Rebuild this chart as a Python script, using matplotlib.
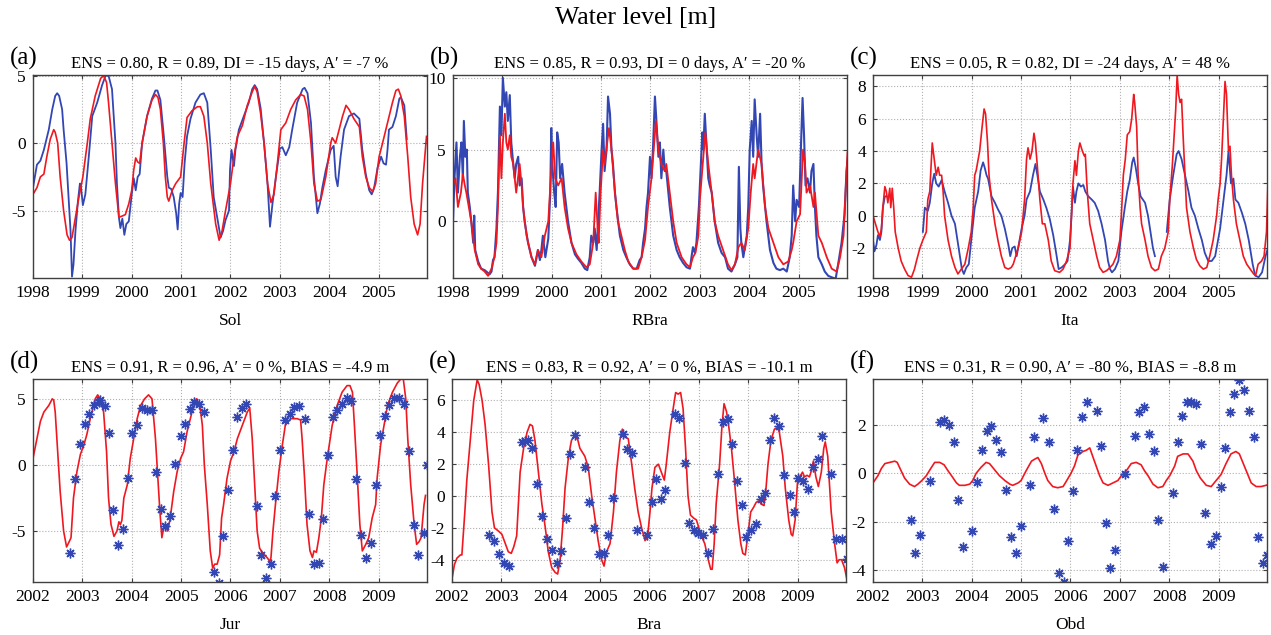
import numpy as np
import matplotlib.pyplot as plt

plt.rcParams['font.family'] = ['Liberation Serif', 'DejaVu Serif']
plt.rcParams['axes.unicode_minus'] = False

BLUE = '#3246b4'
RED = '#f01820'

# ---- Sol (1998-2005): observed (blue) and simulated (red) ----
sol_obs_t = [1998.00, 1998.08, 1998.15, 1998.22, 1998.32, 1998.39, 1998.45, 1998.49, 1998.53, 1998.59,
             1998.62, 1998.68, 1998.72, 1998.76, 1998.79, 1998.82, 1998.86, 1998.91, 1998.95, 1998.97,
             1999.01, 1999.06, 1999.13, 1999.20, 1999.30, 1999.40, 1999.47, 1999.53, 1999.60, 1999.67,
             1999.70, 1999.74, 1999.77, 1999.81, 1999.85, 1999.89, 1999.94, 2000.00, 2000.04, 2000.08,
             2000.12, 2000.16, 2000.21, 2000.31, 2000.41, 2000.48, 2000.52, 2000.58, 2000.65, 2000.72,
             2000.75, 2000.80, 2000.85, 2000.90, 2000.93, 2000.96, 2000.99, 2001.03, 2001.07, 2001.12,
             2001.19, 2001.29, 2001.39, 2001.46, 2001.53, 2001.60, 2001.66, 2001.73, 2001.80, 2001.85,
             2001.90, 2001.97, 2001.99, 2002.02, 2002.07, 2002.10, 2002.17, 2002.27, 2002.37, 2002.44,
             2002.49, 2002.54, 2002.61, 2002.68, 2002.75, 2002.80, 2002.85, 2002.92, 2003.00, 2003.05,
             2003.12, 2003.19, 2003.25, 2003.35, 2003.46, 2003.50, 2003.56, 2003.63, 2003.69, 2003.76,
             2003.81, 2003.86, 2003.93, 2004.03, 2004.09, 2004.13, 2004.17, 2004.23, 2004.30, 2004.40,
             2004.50, 2004.61, 2004.67, 2004.74, 2004.81, 2004.86, 2004.91, 2004.98, 2005.05, 2005.10,
             2005.15, 2005.18, 2005.21, 2005.28, 2005.35, 2005.42, 2005.45, 2005.52, 2005.57]
sol_obs_v = [-3.3, -1.6, -1.3, -0.5, 1.0, 2.5, 3.5, 3.7, 3.5, 2.5,
             1.0, -1.5, -4.0, -6.5, -9.9, -9.0, -6.5, -4.3, -3.0, -3.2,
             -4.6, -3.8, -1.0, 2.0, 3.0, 4.3, 5.0, 5.0, 4.0, 0.0,
             -3.0, -5.5, -6.3, -5.6, -6.8, -6.0, -5.8, -3.8, -2.6, -3.5,
             -2.5, -2.3, 0.0, 2.0, 3.3, 3.9, 3.9, 3.2, 0.5, -2.5,
             -3.3, -3.4, -4.0, -5.2, -6.4, -4.5, -3.7, -4.0, -1.5, 0.5,
             1.8, 3.0, 3.6, 3.7, 3.0, -0.5, -4.0, -5.5, -7.0, -6.5,
             -5.7, -5.0, -2.0, -0.5, -1.7, -0.5, 1.0, 2.0, 3.0, 4.0,
             4.3, 4.0, 2.6, 0.0, -3.0, -6.2, -4.5, -2.5, -0.4, -0.3,
             -0.9, -0.3, 1.0, 3.0, 4.0, 4.1, 3.7, 1.5, -2.5, -5.2,
             -4.5, -3.3, -2.0, -0.5, -0.2, -2.5, -3.2, -1.0, 1.0, 2.0,
             2.2, 1.8, -0.5, -2.3, -3.5, -3.8, -3.3, -1.8, -1.0, -1.5,
             -1.6, -0.5, 1.0, 1.2, 2.0, 3.3, 3.4, 2.8, 0.3]
sol_sim_t = [1998.00, 1998.08, 1998.15, 1998.22, 1998.28, 1998.35, 1998.42, 1998.45, 1998.50, 1998.55,
             1998.62, 1998.69, 1998.74, 1998.79, 1998.86, 1998.93, 1999.01, 1999.10, 1999.16, 1999.26,
             1999.37, 1999.43, 1999.49, 1999.53, 1999.60, 1999.67, 1999.74, 1999.81, 1999.87, 1999.94,
             2000.00, 2000.04, 2000.08, 2000.12, 2000.16, 2000.21, 2000.31, 2000.41, 2000.48, 2000.53,
             2000.58, 2000.64, 2000.68, 2000.72, 2000.75, 2000.82, 2000.89, 2000.99, 2001.06, 2001.12,
             2001.22, 2001.33, 2001.39, 2001.46, 2001.53, 2001.60, 2001.70, 2001.77, 2001.83, 2001.90,
             2002.00, 2002.07, 2002.14, 2002.24, 2002.34, 2002.44, 2002.49, 2002.54, 2002.61, 2002.68,
             2002.75, 2002.82, 2002.88, 2002.95, 2003.02, 2003.12, 2003.22, 2003.32, 2003.42, 2003.49,
             2003.56, 2003.63, 2003.69, 2003.76, 2003.83, 2003.93, 2004.03, 2004.06, 2004.13, 2004.20,
             2004.27, 2004.34, 2004.40, 2004.50, 2004.61, 2004.67, 2004.74, 2004.81, 2004.88, 2004.94,
             2005.01, 2005.08, 2005.18, 2005.28, 2005.35, 2005.40, 2005.45, 2005.52, 2005.59, 2005.65,
             2005.72, 2005.79, 2005.84, 2005.89, 2005.97]
sol_sim_v = [-3.8, -3.3, -2.5, -2.3, -1.0, 0.3, 1.0, 0.8, 0.0, -2.5,
             -5.0, -6.8, -7.2, -7.0, -5.5, -4.0, -2.5, 0.0, 1.8, 3.5,
             4.8, 5.0, 4.5, 3.0, 0.0, -3.0, -5.5, -5.4, -5.3, -4.5,
             -3.5, -2.0, -1.1, -1.4, -1.5, 0.0, 2.0, 3.2, 3.6, 3.4,
             2.5, 0.0, -2.5, -4.0, -4.3, -3.5, -3.0, -2.5, 0.0, 1.9,
             2.4, 2.7, 2.7, 2.0, 0.0, -3.0, -6.0, -7.2, -6.5, -5.0,
             -3.0, -1.0, 0.5, 1.3, 2.8, 3.8, 4.2, 3.8, 2.2, 0.0,
             -3.0, -4.4, -3.8, -1.5, 1.0, 1.5, 2.5, 3.2, 3.6, 3.5,
             2.5, 0.0, -3.0, -4.3, -4.2, -2.5, 0.0, 0.4, 0.0, 1.0,
             2.0, 2.8, 2.5, 1.8, 1.2, -1.0, -2.5, -3.3, -3.6, -3.0,
             -1.0, 0.0, 1.5, 3.0, 3.9, 4.0, 3.5, 2.0, -1.0, -4.0,
             -6.0, -6.8, -6.0, -3.0, 0.5]

# ---- RBra (1998-2005) ----
rbra_obs_t = [1998.00, 1998.03, 1998.07, 1998.10, 1998.14, 1998.17, 1998.20, 1998.22, 1998.25, 1998.28,
              1998.30, 1998.34, 1998.37, 1998.41, 1998.43, 1998.45, 1998.51, 1998.57, 1998.64, 1998.71,
              1998.74, 1998.78, 1998.81, 1998.84, 1998.88, 1998.91, 1998.95, 1998.98, 1999.01, 1999.05,
              1999.08, 1999.11, 1999.15, 1999.18, 1999.22, 1999.25, 1999.28, 1999.32, 1999.35, 1999.39,
              1999.42, 1999.45, 1999.52, 1999.59, 1999.66, 1999.72, 1999.76, 1999.79, 1999.82, 1999.87,
              1999.93, 1999.97, 1999.99, 2000.01, 2000.05, 2000.08, 2000.11, 2000.14, 2000.17, 2000.21,
              2000.26, 2000.33, 2000.40, 2000.47, 2000.53, 2000.60, 2000.67, 2000.72, 2000.77, 2000.80,
              2000.84, 2000.87, 2000.91, 2000.94, 2000.97, 2001.01, 2001.04, 2001.07, 2001.11, 2001.14,
              2001.18, 2001.21, 2001.24, 2001.28, 2001.31, 2001.38, 2001.45, 2001.51, 2001.58, 2001.65,
              2001.72, 2001.78, 2001.82, 2001.85, 2001.89, 2001.92, 2001.95, 2001.99, 2002.02, 2002.05,
              2002.09, 2002.12, 2002.16, 2002.19, 2002.22, 2002.26, 2002.29, 2002.32, 2002.39, 2002.46,
              2002.53, 2002.59, 2002.66, 2002.73, 2002.80, 2002.83, 2002.86, 2002.90, 2002.93, 2002.98,
              2003.02, 2003.05, 2003.07, 2003.10, 2003.14, 2003.17, 2003.20, 2003.24, 2003.30, 2003.37,
              2003.44, 2003.51, 2003.57, 2003.64, 2003.71, 2003.76, 2003.79, 2003.82, 2003.84, 2003.88,
              2003.95, 2003.98, 2004.01, 2004.05, 2004.08, 2004.11, 2004.15, 2004.18, 2004.22, 2004.25,
              2004.28, 2004.35, 2004.42, 2004.49, 2004.55, 2004.62, 2004.69, 2004.76, 2004.82, 2004.86,
              2004.89, 2004.93, 2004.96, 2005.01, 2005.05, 2005.08, 2005.11, 2005.14, 2005.18, 2005.23,
              2005.26, 2005.30, 2005.33, 2005.36, 2005.40, 2005.47, 2005.53, 2005.60, 2005.67, 2005.75,
              2005.80, 2005.87, 2005.93, 2005.97, 2006.00]
rbra_obs_v = [0.0, 3.0, 5.5, 2.0, 4.5, 5.5, 3.0, 7.0, 4.5, 5.0,
              2.0, 1.0, 0.0, -1.5, 0.4, -2.0, -2.8, -3.3, -3.4, -3.6,
              -3.7, -3.5, -2.7, -2.5, -0.5, 2.0, 8.0, 6.0, 10.0, 8.0,
              9.0, 7.0, 8.8, 5.5, 4.0, 3.0, 4.0, 4.5, 2.5, 3.0,
              1.0, 0.0, -1.5, -2.5, -3.1, -2.0, -2.7, -2.0, -1.0, -2.5,
              -1.2, 2.0, 6.5, 4.0, 2.0, 1.0, 6.2, 5.5, 3.0, 4.0,
              2.0, 0.0, -1.5, -2.3, -2.6, -2.9, -3.3, -3.4, -2.5, -1.0,
              -1.5, -0.5, -2.0, 0.0, 2.0, 5.0, 6.8, 3.5, 5.0, 8.7,
              7.5, 5.0, 4.0, 2.0, 1.0, -1.0, -2.0, -2.5, -3.0, -3.3,
              -3.3, -2.7, -2.5, -1.5, -0.5, 1.0, 2.0, 4.5, 3.0, 5.0,
              8.7, 7.0, 4.5, 5.5, 3.0, 5.0, 3.5, 3.5, 1.0, -1.0,
              -2.0, -2.5, -2.9, -3.2, -3.3, -2.5, -1.8, -2.2, -1.5, 1.0,
              4.0, 6.2, 5.0, 7.5, 5.0, 3.0, 2.5, 2.0, 0.0, -1.5,
              -2.2, -2.5, -3.3, -3.5, -3.0, -2.5, 3.8, -0.5, -1.5, -2.5,
              -1.0, 1.0, 5.0, 7.0, 4.5, 8.5, 6.0, 4.5, 7.5, 4.0,
              2.5, 0.0, -2.0, -2.9, -3.3, -3.4, -3.3, -3.5, -2.5, -1.0,
              2.5, 0.0, 1.5, 1.0, 5.5, 8.6, 6.0, 2.5, 3.0, 2.0,
              3.5, 4.0, 1.0, -1.0, -2.5, -3.0, -3.5, -3.8, -3.9, -4.0,
              -3.0, -1.5, 0.5, 3.5, 4.5]
rbra_sim_t = [1998.00, 1998.05, 1998.10, 1998.16, 1998.20, 1998.24, 1998.27, 1998.32, 1998.37, 1998.44,
              1998.51, 1998.57, 1998.64, 1998.71, 1998.78, 1998.84, 1998.88, 1998.91, 1998.95, 1998.98,
              1999.01, 1999.05, 1999.08, 1999.11, 1999.15, 1999.18, 1999.22, 1999.28, 1999.35, 1999.39,
              1999.42, 1999.49, 1999.59, 1999.66, 1999.72, 1999.79, 1999.86, 1999.93, 1999.98, 2000.03,
              2000.07, 2000.13, 2000.20, 2000.26, 2000.33, 2000.40, 2000.50, 2000.60, 2000.70, 2000.77,
              2000.84, 2000.89, 2000.93, 2000.95, 2000.99, 2001.04, 2001.07, 2001.16, 2001.21, 2001.28,
              2001.34, 2001.41, 2001.48, 2001.55, 2001.65, 2001.75, 2001.82, 2001.89, 2001.95, 2002.02,
              2002.11, 2002.16, 2002.22, 2002.29, 2002.32, 2002.39, 2002.46, 2002.53, 2002.63, 2002.73,
              2002.80, 2002.86, 2002.91, 2002.97, 2003.00, 2003.07, 2003.11, 2003.17, 2003.24, 2003.30,
              2003.37, 2003.47, 2003.57, 2003.64, 2003.71, 2003.78, 2003.84, 2003.91, 2003.98, 2004.03,
              2004.08, 2004.11, 2004.18, 2004.25, 2004.32, 2004.39, 2004.49, 2004.59, 2004.69, 2004.79,
              2004.86, 2004.89, 2004.96, 2005.03, 2005.09, 2005.13, 2005.16, 2005.23, 2005.30, 2005.33,
              2005.40, 2005.47, 2005.57, 2005.67, 2005.77, 2005.84, 2005.91, 2005.95, 2005.99]
rbra_sim_v = [2.5, 3.0, 1.0, 2.0, 3.3, 2.5, 2.0, 1.0, 0.0, -2.0,
              -3.0, -3.3, -3.5, -3.8, -3.3, -2.5, -1.5, 1.0, 6.0, 3.0,
              5.5, 7.5, 5.5, 5.0, 6.0, 4.5, 4.0, 2.0, 4.0, 2.5,
              1.0, -1.0, -2.5, -3.0, -2.0, -2.5, -1.0, 0.0, 3.0, 5.5,
              3.0, 2.5, 3.0, 1.0, -0.5, -1.5, -2.3, -2.8, -3.2, -3.0,
              -1.5, 2.0, -0.5, -1.5, 2.0, 5.0, 4.0, 6.5, 5.0, 2.0,
              0.0, -1.0, -2.0, -2.8, -3.3, -3.3, -2.5, -1.3, 1.0, 3.0,
              7.0, 5.0, 4.0, 3.5, 4.0, 2.0, 0.0, -1.5, -2.5, -3.0,
              -3.2, -2.5, -2.2, -1.0, 1.5, 4.5, 6.2, 4.0, 2.0, 0.0,
              -1.0, -2.0, -3.0, -3.4, -3.0, -1.8, -1.5, -2.0, -0.5, 2.0,
              4.0, 3.0, 5.0, 4.0, 1.0, -0.5, -1.5, -2.5, -3.0, -2.8,
              -2.0, -1.5, 0.0, 0.5, 5.0, 4.0, 2.0, 2.5, 1.0, 2.0,
              -1.0, -1.5, -2.5, -3.3, -3.5, -2.5, -1.0, 2.0, 4.8]

# ---- Ita (1998-2005); NaN marks gaps in the record ----
ita_obs_t = [1998.00, 1998.03, 1998.07, 1998.10, 1998.14, 1998.17, 1998.20, 1998.24, 1998.27, 1998.60,
             1999.01, 1999.05, 1999.11, 1999.15, 1999.20, 1999.24, 1999.28, 1999.33, 1999.39, 1999.45,
             1999.52, 1999.59, 1999.66, 1999.71, 1999.76, 1999.80, 1999.84, 1999.89, 1999.94, 1999.99,
             2000.06, 2000.13, 2000.18, 2000.23, 2000.26, 2000.30, 2000.33, 2000.40, 2000.47, 2000.53,
             2000.60, 2000.67, 2000.74, 2000.78, 2000.82, 2000.87, 2000.91, 2001.01, 2001.07, 2001.11,
             2001.18, 2001.24, 2001.29, 2001.33, 2001.38, 2001.45, 2001.51, 2001.58, 2001.65, 2001.72,
             2001.76, 2001.82, 2001.89, 2001.94, 2001.99, 2002.02, 2002.05, 2002.09, 2002.12, 2002.16,
             2002.21, 2002.26, 2002.30, 2002.36, 2002.43, 2002.49, 2002.56, 2002.63, 2002.70, 2002.76,
             2002.80, 2002.84, 2002.90, 2002.97, 2003.03, 2003.10, 2003.15, 2003.20, 2003.25, 2003.28,
             2003.32, 2003.37, 2003.42, 2003.51, 2003.57, 2003.62, 2003.67, 2003.71, 2003.85, 2003.95,
             2004.01, 2004.08, 2004.15, 2004.19, 2004.25, 2004.32, 2004.39, 2004.45, 2004.52, 2004.59,
             2004.66, 2004.72, 2004.79, 2004.86, 2004.93, 2004.99, 2005.03, 2005.08, 2005.12, 2005.16,
             2005.20, 2005.25, 2005.30, 2005.34, 2005.40, 2005.47, 2005.54, 2005.61, 2005.69, 2005.74,
             2005.81, 2005.88, 2005.95, 2006.00]
ita_obs_v = [-1.5, -2.2, -1.8, -1.2, -1.5, -1.0, 0.5, 1.2, 1.2, np.nan,
             -1.0, 0.5, 0.3, 0.8, 2.0, 2.6, 2.0, 1.8, 2.2, 1.5,
             0.8, 0.0, -0.5, -1.5, -2.5, -3.3, -3.6, -3.2, -3.0, -1.5,
             0.5, 1.5, 2.8, 3.3, 3.0, 2.5, 2.3, 1.2, 0.8, 0.4,
             0.0, -0.8, -1.8, -2.5, -2.0, -1.9, -2.5, -0.8, 0.0, 1.0,
             1.5, 2.5, 3.2, 2.5, 1.5, 1.0, 0.5, -0.2, -1.2, -2.5,
             -3.3, -3.2, -3.0, -2.8, -1.5, 0.0, 1.8, 0.8, 1.5, 2.0,
             1.8, 1.9, 1.5, 1.2, 1.0, 0.8, 0.3, -0.5, -1.5, -2.8,
             -3.3, -3.5, -3.3, -2.8, -1.0, 0.5, 1.5, 2.2, 3.3, 3.6,
             3.0, 2.0, 1.2, 0.8, 0.0, -1.0, -2.0, -2.5, np.nan, -1.0,
             1.0, 2.5, 3.8, 4.0, 3.5, 2.5, 1.5, 0.5, 0.0, -0.8,
             -1.5, -2.3, -2.8, -2.8, -2.5, -1.5, -0.8, 0.5, 1.5, 2.5,
             4.0, 2.0, 2.3, 1.0, 0.8, 0.2, -0.5, -1.5, -3.0, -3.7,
             -3.8, -3.5, -2.5, -2.0]
ita_sim_t = [1998.00, 1998.05, 1998.10, 1998.14, 1998.17, 1998.20, 1998.24, 1998.27, 1998.30, 1998.34,
             1998.36, 1998.39, 1998.42, 1998.45, 1998.51, 1998.57, 1998.64, 1998.71, 1998.78, 1998.84,
             1998.88, 1998.95, 1999.01, 1999.08, 1999.11, 1999.15, 1999.20, 1999.24, 1999.28, 1999.32,
             1999.35, 1999.39, 1999.42, 1999.45, 1999.52, 1999.59, 1999.66, 1999.72, 1999.79, 1999.86,
             1999.93, 1999.99, 2000.03, 2000.06, 2000.09, 2000.16, 2000.21, 2000.25, 2000.28, 2000.32,
             2000.35, 2000.40, 2000.47, 2000.53, 2000.60, 2000.67, 2000.74, 2000.80, 2000.84, 2000.89,
             2000.94, 2001.01, 2001.07, 2001.11, 2001.14, 2001.18, 2001.22, 2001.26, 2001.29, 2001.33,
             2001.38, 2001.43, 2001.48, 2001.55, 2001.61, 2001.68, 2001.78, 2001.85, 2001.92, 2001.99,
             2002.02, 2002.05, 2002.09, 2002.12, 2002.16, 2002.19, 2002.24, 2002.28, 2002.30, 2002.34,
             2002.39, 2002.46, 2002.53, 2002.59, 2002.66, 2002.73, 2002.80, 2002.86, 2002.93, 2003.00,
             2003.03, 2003.07, 2003.11, 2003.15, 2003.20, 2003.24, 2003.28, 2003.30, 2003.34, 2003.37,
             2003.41, 2003.44, 2003.51, 2003.57, 2003.64, 2003.71, 2003.78, 2003.84, 2003.91, 2003.98,
             2004.01, 2004.06, 2004.09, 2004.13, 2004.16, 2004.19, 2004.22, 2004.25, 2004.28, 2004.32,
             2004.35, 2004.42, 2004.49, 2004.55, 2004.62, 2004.69, 2004.76, 2004.82, 2004.89, 2004.96,
             2004.99, 2005.03, 2005.06, 2005.09, 2005.13, 2005.16, 2005.20, 2005.23, 2005.26, 2005.30,
             2005.36, 2005.43, 2005.50, 2005.57, 2005.64, 2005.71, 2005.75, 2005.80, 2005.87, 2005.92,
             2005.97, 2006.00]
ita_sim_v = [0.0, -0.5, -1.0, -1.3, -0.8, 0.5, 1.8, 1.5, 0.8, 1.7,
             0.5, 1.7, 0.5, -1.0, -2.0, -2.8, -3.3, -3.7, -3.8, -3.3,
             -2.8, -2.0, -1.5, -1.0, 1.0, 1.5, 4.5, 3.5, 2.5, 3.0,
             2.5, 2.5, 1.5, 0.0, -1.5, -2.5, -3.2, -3.6, -3.3, -3.0,
             -2.0, -1.0, 0.5, 2.5, 2.8, 4.0, 5.5, 6.6, 6.3, 4.5,
             2.5, 1.0, -0.5, -1.5, -2.5, -3.2, -3.3, -3.2, -3.0, -2.5,
             -2.0, -1.0, 1.0, 3.5, 4.2, 3.5, 4.0, 5.1, 4.5, 3.0,
             1.0, -0.5, -0.5, -1.5, -2.8, -3.4, -3.5, -3.3, -2.8, -2.0,
             0.0, 2.0, 3.4, 2.5, 4.0, 4.5, 4.0, 3.7, 3.8, 1.5,
             -0.5, -1.5, -2.5, -3.2, -3.5, -3.4, -3.2, -3.0, -2.5, -1.5,
             0.0, 2.5, 3.5, 5.0, 5.2, 6.0, 7.5, 7.0, 5.5, 2.5,
             0.5, -0.5, -1.5, -2.5, -3.2, -3.4, -3.3, -2.5, -2.0, -1.0,
             1.0, 3.0, 4.5, 6.5, 8.7, 7.5, 7.0, 7.2, 5.0, 2.5,
             0.5, -1.0, -2.0, -2.7, -3.1, -3.3, -3.2, -2.5, -1.5, 0.0,
             1.0, 2.0, 3.5, 5.5, 8.3, 7.5, 4.0, 4.3, 2.5, 1.0,
             -0.5, -1.5, -2.5, -3.0, -3.3, -3.6, -3.7, -3.0, -2.8, -2.5,
             -1.0, 2.2]

# ---- Jur (2002-2009): simulated line and altimetry points ----
jur_sim_t = [2002.00, 2002.08, 2002.15, 2002.22, 2002.32, 2002.39, 2002.42, 2002.45, 2002.50, 2002.55,
             2002.62, 2002.68, 2002.72, 2002.77, 2002.82, 2002.89, 2002.96, 2003.03, 2003.09, 2003.16,
             2003.26, 2003.31, 2003.36, 2003.43, 2003.49, 2003.53, 2003.58, 2003.64, 2003.70, 2003.74,
             2003.77, 2003.80, 2003.84, 2003.91, 2003.97, 2004.04, 2004.11, 2004.18, 2004.26, 2004.34,
             2004.41, 2004.48, 2004.53, 2004.57, 2004.61, 2004.66, 2004.73, 2004.78, 2004.85, 2004.92,
             2004.99, 2005.05, 2005.12, 2005.22, 2005.31, 2005.38, 2005.43, 2005.47, 2005.53, 2005.59,
             2005.64, 2005.68, 2005.73, 2005.78, 2005.82, 2005.86, 2005.93, 2006.00, 2006.07, 2006.14,
             2006.24, 2006.34, 2006.39, 2006.44, 2006.49, 2006.54, 2006.59, 2006.68, 2006.74, 2006.80,
             2006.82, 2006.86, 2006.91, 2006.98, 2007.05, 2007.11, 2007.22, 2007.35, 2007.42, 2007.45,
             2007.50, 2007.55, 2007.61, 2007.66, 2007.69, 2007.74, 2007.79, 2007.84, 2007.89, 2007.96,
             2008.06, 2008.16, 2008.26, 2008.36, 2008.42, 2008.47, 2008.51, 2008.57, 2008.62, 2008.67,
             2008.74, 2008.80, 2008.87, 2008.94, 2008.97, 2009.04, 2009.11, 2009.18, 2009.28, 2009.38,
             2009.45, 2009.50, 2009.55, 2009.59, 2009.65, 2009.72, 2009.77, 2009.82, 2009.86, 2009.92,
             2009.95]
jur_sim_v = [0.5, 2.0, 3.3, 4.0, 4.5, 5.0, 4.9, 4.0, 1.0, -2.0,
             -5.0, -6.2, -5.9, -5.5, -2.5, -0.5, 0.8, 1.5, 2.3, 3.5,
             5.0, 5.3, 5.0, 4.0, 1.0, -2.5, -4.5, -5.4, -5.0, -4.3,
             -4.5, -4.2, -2.5, -1.5, 0.5, 2.0, 3.5, 4.5, 5.0, 5.3,
             5.0, 2.0, -1.0, -3.5, -5.5, -4.5, -5.0, -4.0, -2.0, -0.5,
             0.5, 1.0, 2.5, 4.0, 5.0, 4.5, 3.0, 0.0, -3.0, -6.5,
             -7.8, -7.5, -7.5, -6.8, -4.0, -3.0, -1.0, 0.3, 1.0, 2.0,
             3.0, 4.0, 4.3, 2.0, -1.5, -5.0, -6.3, -6.8, -7.0, -7.3,
             -7.0, -5.0, -3.0, -0.5, 1.5, 3.0, 3.5, 3.5, 3.4, 2.0,
             -1.0, -4.5, -6.5, -7.0, -6.5, -6.6, -5.5, -4.0, -1.5, 0.5,
             3.0, 4.5, 5.5, 6.0, 6.0, 5.5, 3.0, -1.0, -4.5, -6.5,
             -6.0, -5.5, -4.0, -3.0, -1.0, 1.5, 3.0, 4.5, 5.5, 6.2,
             6.5, 6.5, 5.0, 2.0, -1.5, -4.5, -6.0, -5.8, -5.5, -3.0,
             -2.3]
jur_obs_t = [2002.74, 2002.86, 2002.95, 2003.05, 2003.14, 2003.24, 2003.33, 2003.36, 2003.45, 2003.53,
             2003.62, 2003.72, 2003.82, 2003.92, 2004.01, 2004.11, 2004.21, 2004.30, 2004.41, 2004.49,
             2004.59, 2004.68, 2004.78, 2004.87, 2004.99, 2005.07, 2005.17, 2005.27, 2005.36, 2005.46,
             2005.66, 2005.76, 2005.85, 2005.95, 2006.05, 2006.14, 2006.23, 2006.32, 2006.53, 2006.62,
             2006.72, 2006.82, 2006.91, 2007.01, 2007.10, 2007.20, 2007.28, 2007.39, 2007.50, 2007.59,
             2007.69, 2007.79, 2007.87, 2007.98, 2008.07, 2008.16, 2008.26, 2008.35, 2008.45, 2008.55,
             2008.64, 2008.75, 2008.84, 2008.94, 2009.03, 2009.13, 2009.22, 2009.31, 2009.41, 2009.51,
             2009.61, 2009.71, 2009.80, 2009.91, 2009.97]
jur_obs_v = [-6.65, -1.03, 1.6, 3.1, 3.87, 4.5, 4.77, 4.9, 4.46, 2.4,
             -3.43, -6.06, -4.85, -0.98, 2.4, 3.0, 4.33, 4.12, 4.12, -0.52,
             -3.35, -4.59, -3.87, 0.05, 2.19, 3.1, 4.2, 4.77, 4.64, 4.0,
             -8.12, -8.9, -5.36, -1.93, 1.16, 3.66, 4.33, 4.64, -3.14, -6.78,
             -8.58, -7.47, -2.37, 1.1, 3.4, 3.87, 4.38, 4.43, 3.48, -3.74,
             -7.47, -7.42, -4.05, 0.77, 3.66, 4.12, 4.59, 5.03, 4.85, -1.03,
             -5.28, -7.04, -5.88, -1.55, 2.27, 3.74, 4.5, 5.08, 5.03, 4.64,
             1.03, -4.51, -6.78, -5.15, 0.0]

# ---- Bra (2002-2009) ----
bra_sim_t = [2002.00, 2002.05, 2002.10, 2002.17, 2002.20, 2002.26, 2002.30, 2002.37, 2002.44, 2002.51,
             2002.55, 2002.61, 2002.67, 2002.74, 2002.81, 2002.86, 2002.94, 2003.01, 2003.08, 2003.14,
             2003.20, 2003.25, 2003.31, 2003.38, 2003.45, 2003.52, 2003.58, 2003.63, 2003.68, 2003.75,
             2003.82, 2003.89, 2003.95, 2004.02, 2004.09, 2004.14, 2004.19, 2004.24, 2004.29, 2004.36,
             2004.42, 2004.49, 2004.55, 2004.59, 2004.69, 2004.76, 2004.83, 2004.90, 2004.96, 2005.03,
             2005.08, 2005.13, 2005.20, 2005.27, 2005.33, 2005.40, 2005.45, 2005.50, 2005.57, 2005.64,
             2005.70, 2005.77, 2005.84, 2005.91, 2005.96, 2006.01, 2006.05, 2006.11, 2006.18, 2006.24,
             2006.30, 2006.34, 2006.41, 2006.48, 2006.53, 2006.58, 2006.63, 2006.68, 2006.73, 2006.78,
             2006.83, 2006.90, 2006.95, 2006.98, 2007.05, 2007.12, 2007.19, 2007.24, 2007.27, 2007.31,
             2007.35, 2007.42, 2007.47, 2007.51, 2007.56, 2007.60, 2007.66, 2007.72, 2007.79, 2007.85,
             2007.89, 2007.94, 2007.99, 2008.05, 2008.11, 2008.16, 2008.22, 2008.26, 2008.32, 2008.36,
             2008.40, 2008.46, 2008.53, 2008.59, 2008.63, 2008.70, 2008.75, 2008.82, 2008.87, 2008.90,
             2008.95, 2009.00, 2009.06, 2009.10, 2009.14, 2009.19, 2009.24, 2009.27, 2009.32, 2009.37,
             2009.42, 2009.48, 2009.53, 2009.56, 2009.61, 2009.68, 2009.75, 2009.80, 2009.84, 2009.89,
             2009.95, 2010.01]
bra_sim_v = [-5.2, -4.3, -3.9, -3.7, -3.7, -1.0, 1.0, 3.5, 6.0, 7.3,
             7.0, 6.0, 4.5, 2.0, -1.0, -2.0, -2.2, -2.4, -3.0, -3.5,
             -3.6, -3.2, -2.5, 1.5, 3.0, 4.0, 4.5, 4.4, 3.5, 1.5,
             -0.5, -2.0, -3.5, -4.5, -4.8, -4.9, -4.0, -2.0, 0.5, 2.5,
             3.5, 3.8, 3.5, 3.0, 2.5, 1.8, 0.0, -1.5, -2.8, -4.0,
             -4.4, -3.5, -3.0, -1.0, 1.5, 3.5, 4.2, 3.7, 3.6, 2.0,
             0.5, -1.0, -2.0, -2.8, -2.6, -1.0, 0.5, 1.8, 2.0, 1.5,
             1.0, 2.0, 4.0, 5.5, 6.5, 6.4, 6.5, 5.5, 3.0, 0.0,
             -1.2, -1.4, -1.5, -1.8, -2.5, -3.0, -4.0, -4.6, -4.6, -3.0,
             -0.5, 2.0, 4.5, 5.8, 5.3, 4.5, 3.0, 1.0, -1.5, -3.0,
             -3.6, -3.7, -2.5, -1.0, -0.7, -0.4, -0.3, -0.5, -0.6, 0.5,
             2.0, 3.5, 4.2, 4.3, 4.0, 2.5, 0.5, -1.5, -2.4, -2.5,
             -1.5, 1.0, 1.3, 1.5, 1.2, 1.3, 1.2, 1.5, 2.2, 1.2,
             0.6, 1.5, 3.0, 3.4, 2.5, -1.0, -3.0, -4.2, -4.0, -4.0,
             -4.5, -5.4]
bra_obs_t = [2002.75, 2002.86, 2002.96, 2003.06, 2003.16, 2003.41, 2003.48, 2003.54, 2003.63, 2003.73,
             2003.83, 2003.92, 2004.02, 2004.12, 2004.21, 2004.31, 2004.40, 2004.50, 2004.69, 2004.78,
             2004.88, 2004.98, 2005.08, 2005.16, 2005.27, 2005.46, 2005.55, 2005.65, 2005.75, 2005.95,
             2006.05, 2006.14, 2006.23, 2006.32, 2006.51, 2006.60, 2006.71, 2006.81, 2006.90, 2006.99,
             2007.08, 2007.18, 2007.29, 2007.39, 2007.49, 2007.58, 2007.67, 2007.77, 2007.87, 2007.96,
             2008.06, 2008.16, 2008.25, 2008.34, 2008.44, 2008.53, 2008.63, 2008.73, 2008.84, 2008.92,
             2009.00, 2009.10, 2009.21, 2009.31, 2009.41, 2009.49, 2009.68, 2009.78, 2009.89, 2010.00]
bra_obs_v = [-2.44, -2.82, -3.63, -4.23, -4.38, 3.42, 3.46, 3.5, 2.99, 0.75,
             -1.28, -2.71, -3.42, -4.23, -3.48, -1.35, 2.63, 3.85, 1.82, -0.38,
             -1.99, -3.63, -3.59, -2.46, -0.15, 3.91, 2.93, 2.71, -2.14, -2.46,
             -0.38, 1.07, -0.21, 0.38, 5.17, 4.91, 2.07, -1.71, -2.14, -2.35,
             -2.46, -3.59, -2.09, 1.39, 4.66, 4.85, 3.25, 0.96, -0.58, -2.56,
             -2.14, -1.77, -0.21, 0.21, 3.53, 4.87, 4.38, 1.32, 0.06, -1.03,
             1.11, 0.96, 0.43, 1.82, 2.35, 3.74, 1.39, -2.71, -2.67, -3.95]

# ---- Obd (2002-2009) ----
obd_sim_t = [2002.00, 2002.10, 2002.17, 2002.24, 2002.34, 2002.44, 2002.49, 2002.57, 2002.64, 2002.74,
             2002.84, 2002.91, 2002.99, 2003.08, 2003.17, 2003.25, 2003.35, 2003.44, 2003.52, 2003.59,
             2003.69, 2003.75, 2003.86, 2003.96, 2004.02, 2004.09, 2004.19, 2004.29, 2004.36, 2004.46,
             2004.56, 2004.67, 2004.77, 2004.83, 2004.94, 2005.00, 2005.10, 2005.21, 2005.29, 2005.34,
             2005.41, 2005.48, 2005.54, 2005.64, 2005.74, 2005.85, 2005.91, 2006.01, 2006.08, 2006.15,
             2006.25, 2006.32, 2006.39, 2006.45, 2006.52, 2006.59, 2006.66, 2006.76, 2006.86, 2006.96,
             2007.03, 2007.13, 2007.23, 2007.33, 2007.43, 2007.50, 2007.57, 2007.67, 2007.77, 2007.87,
             2007.94, 2008.01, 2008.11, 2008.17, 2008.28, 2008.38, 2008.48, 2008.55, 2008.63, 2008.75,
             2008.85, 2008.95, 2009.05, 2009.15, 2009.25, 2009.35, 2009.42, 2009.49, 2009.58, 2009.66,
             2009.76, 2009.86, 2009.96, 2010.03]
obd_sim_v = [-0.4, -0.1, 0.2, 0.4, 0.45, 0.5, 0.45, 0.1, -0.2, -0.45,
             -0.55, -0.45, -0.3, -0.1, 0.2, 0.45, 0.45, 0.35, 0.1, -0.1,
             -0.4, -0.5, -0.5, -0.45, -0.3, 0.0, 0.25, 0.45, 0.4, 0.15,
             -0.1, -0.3, -0.45, -0.5, -0.4, -0.3, 0.1, 0.5, 0.6, 0.65,
             0.4, 0.0, -0.3, -0.55, -0.6, -0.55, -0.35, 0.0, 0.3, 0.75,
             0.9, 0.95, 1.05, 0.7, 0.3, -0.1, -0.4, -0.5, -0.4, -0.3,
             -0.1, 0.1, 0.4, 0.45, 0.35, 0.1, -0.1, -0.45, -0.6, -0.55,
             -0.3, -0.1, 0.3, 0.7, 0.8, 0.8, 0.5, 0.1, -0.2, -0.5,
             -0.55, -0.3, -0.05, 0.4, 0.8, 0.9, 0.8, 0.45, 0.0, -0.4,
             -0.55, -0.55, -0.5, -0.45]
obd_obs_t = [2002.76, 2002.86, 2002.96, 2003.16, 2003.35, 2003.44, 2003.54, 2003.64, 2003.73, 2003.83,
             2004.01, 2004.11, 2004.21, 2004.30, 2004.40, 2004.50, 2004.60, 2004.69, 2004.80, 2004.89,
             2004.99, 2005.18, 2005.27, 2005.45, 2005.56, 2005.66, 2005.77, 2005.86, 2005.95, 2006.05,
             2006.14, 2006.23, 2006.33, 2006.53, 2006.62, 2006.72, 2006.81, 2006.91, 2007.11, 2007.30,
             2007.38, 2007.48, 2007.58, 2007.69, 2007.77, 2007.87, 2008.07, 2008.17, 2008.26, 2008.35,
             2008.44, 2008.55, 2008.65, 2008.73, 2008.84, 2008.94, 2009.04, 2009.13, 2009.23, 2009.32,
             2009.42, 2009.52, 2009.62, 2009.71, 2009.79, 2009.90, 2009.99]
obd_obs_v = [-1.95, -3.32, -2.57, -0.32, 2.12, 2.2, 2.0, 1.3, -1.11, -3.04,
             -2.41, -0.35, 0.95, 1.75, 1.96, 1.37, 0.88, -0.69, -2.65, -3.32,
             -2.17, -0.48, 1.5, 2.27, 1.29, -1.46, -4.14, -4.52, -2.81, -0.73,
             0.95, 2.33, 2.96, 2.57, 1.12, -2.06, -3.93, -3.16, -0.04, 1.54,
             2.54, 2.76, 1.64, 0.93, -1.92, -3.89, -0.8, 1.3, 2.38, 2.96,
             2.96, 2.88, 1.23, -1.64, -2.93, -2.58, -0.55, 1.05, 2.52, 3.27,
             3.87, 3.44, 2.59, 1.5, -2.62, -3.72, -3.39]

W, H = 1271, 635
fig = plt.figure(figsize=(W / 100, H / 100), dpi=100)
fig.text(0.5, 1 - 18 / H, 'Water level [m]', ha='center', va='center', fontsize=18.5)


def panel(left, top, label, title, xlabel, x0, ylim, yticks):
    ax = fig.add_axes([left / W, 1 - (top + 203) / H, 394 / W, 203 / H])
    ax.set_xlim(x0, x0 + 7.98)
    ax.set_ylim(*ylim)
    ax.set_xticks(range(x0, x0 + 8))
    ax.set_yticks(yticks)
    ax.grid(True, linestyle=':', color='#b0b0b0', linewidth=0.8)
    ax.tick_params(direction='in', top=True, right=True, labelsize=12.5,
                   length=3, pad=5, color='#404040')
    for s in ax.spines.values():
        s.set_color('#404040')
        s.set_linewidth(1.0)
    ax.set_title(title, fontsize=12, pad=5)
    ax.set_xlabel(xlabel, fontsize=12.5, labelpad=9)
    fig.text((left - 23) / W, 1 - (top - 17) / H, label, fontsize=18,
             ha='left', va='center')
    return ax


ax = panel(33, 75, '(a)', 'ENS = 0.80, R = 0.89, DI = -15 days, A\u2032 = -7 %', 'Sol',
           1998, (-10, 5.05), [-5, 0, 5])
ax.plot(sol_obs_t, sol_obs_v, color=BLUE, lw=1.3)
ax.plot(sol_sim_t, sol_sim_v, color=RED, lw=1.2)

ax = panel(453, 75, '(b)', 'ENS = 0.85, R = 0.93, DI = 0 days, A\u2032 = -20 %', 'RBra',
           1998, (-3.95, 10.2), [0, 5, 10])
ax.plot(rbra_obs_t, rbra_obs_v, color=BLUE, lw=1.5)
ax.plot(rbra_sim_t, rbra_sim_v, color=RED, lw=1.3)

ax = panel(873, 75, '(c)', 'ENS = 0.05, R = 0.82, DI = -24 days, A\u2032 = 48 %', 'Ita',
           1998, (-3.85, 8.7), [-2, 0, 2, 4, 6, 8])
ax.plot(ita_obs_t, ita_obs_v, color=BLUE, lw=1.3)
ax.plot(ita_sim_t, ita_sim_v, color=RED, lw=1.2)

star = dict(ls='none', marker=(8, 2, 0), ms=7, mew=1.0, color=BLUE)

ax = panel(33, 379, '(d)', 'ENS = 0.91, R = 0.96, A\u2032 = 0 %, BIAS = -4.9 m', 'Jur',
           2002, (-8.85, 6.5), [-5, 0, 5])
ax.plot(jur_sim_t, jur_sim_v, color=RED, lw=1.2)
ax.plot(jur_obs_t, jur_obs_v, **star)

ax = panel(452, 379, '(e)', 'ENS = 0.83, R = 0.92, A\u2032 = 0 %, BIAS = -10.1 m', 'Bra',
           2002, (-5.4, 7.35), [-4, -2, 0, 2, 4, 6])
ax.plot(bra_sim_t, bra_sim_v, color=RED, lw=1.2)
ax.plot(bra_obs_t, bra_obs_v, **star)

ax = panel(873, 379, '(f)', 'ENS = 0.31, R = 0.90, A\u2032 = -80 %, BIAS = -8.8 m', 'Obd',
           2002, (-4.5, 3.9), [-4, -2, 0, 2])
ax.plot(obd_sim_t, obd_sim_v, color=RED, lw=1.2)
ax.plot(obd_obs_t, obd_obs_v, **star)

fig.savefig('out.png', dpi=100)
